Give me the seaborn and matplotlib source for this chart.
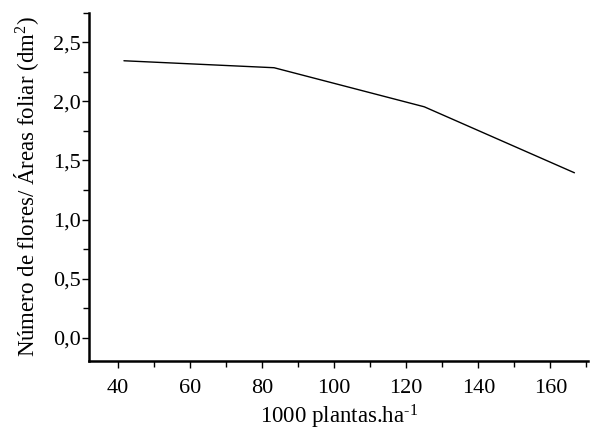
import matplotlib
matplotlib.use("Agg")
import matplotlib.pyplot as plt
from matplotlib.ticker import MultipleLocator, FuncFormatter
import seaborn as sns
import pandas as pd

# plant density (1000 plants/ha) and flowers per leaf area
densidade = [41.67, 83.33, 125.0, 166.67]
flores_area = [2.345, 2.286, 1.955, 1.396]

df = pd.DataFrame({"x": densidade, "y": flores_area})

sns.set_style("ticks")
plt.rcParams['font.family'] = ['Liberation Serif', 'DejaVu Serif']
plt.rcParams['mathtext.fontset'] = 'custom'
plt.rcParams['mathtext.rm'] = 'Liberation Serif'
plt.rcParams['mathtext.it'] = 'Liberation Serif:italic'

fig = plt.figure(figsize=(5.9, 4.32), dpi=100)
ax = fig.add_axes([0.151, 0.164, 0.846, 0.806])

sns.lineplot(data=df, x="x", y="y", color="black", linewidth=1.0, ax=ax)

ax.set_xlim(32, 170.5)
ax.set_ylim(-0.2, 2.75)
ax.xaxis.set_major_locator(MultipleLocator(20))
ax.xaxis.set_minor_locator(MultipleLocator(10))
ax.yaxis.set_major_locator(MultipleLocator(0.5))
ax.yaxis.set_minor_locator(MultipleLocator(0.25))
ax.yaxis.set_major_formatter(FuncFormatter(lambda v, p: f"{v:.1f}".replace(".", ",")))

sns.despine(ax=ax)
for s in ["left", "bottom"]:
    ax.spines[s].set_linewidth(1.8)
    ax.spines[s].set_color("black")
ax.tick_params(which="major", length=5, width=1, labelsize=16, colors="black")
ax.tick_params(which="minor", length=4, width=1, colors="black")
ax.tick_params(axis="x", pad=8)
ax.tick_params(axis="y", pad=1)

ax.set_xlabel("1000 plantas.ha$^{\\text{-}1}$", fontsize=16.5, labelpad=3, color="black")
ax.set_ylabel("Número de flores/ Áreas foliar (dm$^{2}$)", fontsize=16.5, labelpad=9, color="black")

fig.savefig("out.png", dpi=100)
